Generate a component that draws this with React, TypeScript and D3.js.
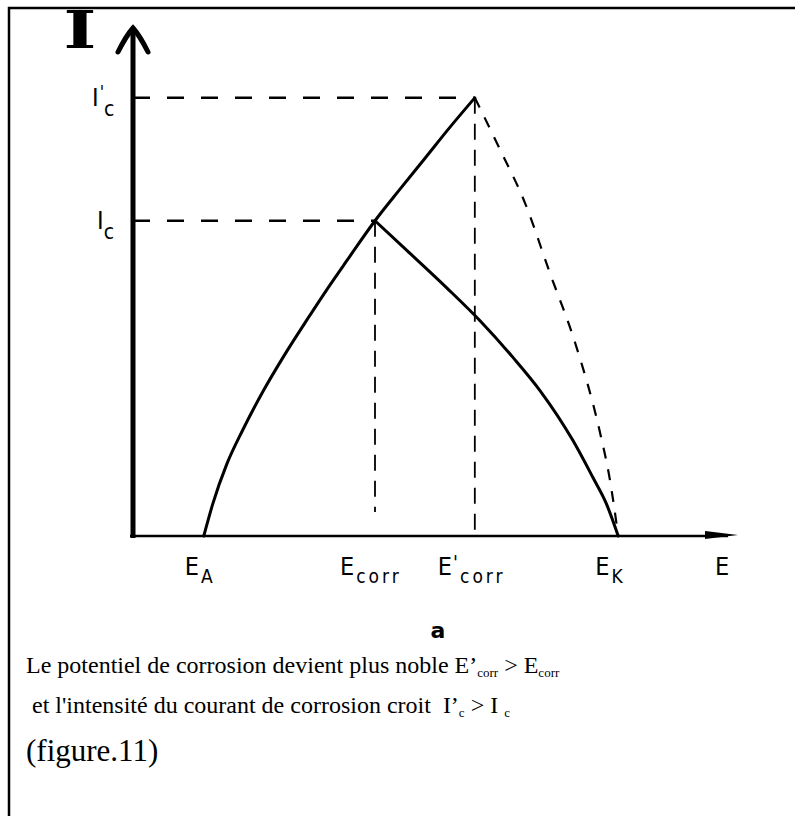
import React from "react";
import * as d3 from "d3";

const W = 795;
const H = 816;

// Potential E and current I in arbitrary units (0–100 along each axis)
const anodicE = [11.7, 13.2, 15.5, 18.2, 21.5, 24.8, 28.8, 32.1, 35.4, 40.0, 44.1, 48.3, 52.4, 56.5];
const anodicI = [0, 6.4, 14.2, 21.1, 28.6, 35.3, 42.8, 48.8, 54.5, 62.3, 68.5, 74.7, 80.8, 86.6];
const cathodicE = [40.0, 45.3, 51.9, 57.4, 62.8, 67.3, 72.7, 76.0, 78.2, 80.2];
const cathodicI = [62.3, 56.4, 49.0, 42.5, 35.3, 28.7, 18.9, 11.6, 6.5, 0];
const shiftedE = [56.5, 60.7, 64.8, 68.9, 73.1, 77.2, 78.8, 80.2];
const shiftedI = [86.6, 76.3, 65.8, 52.0, 38.1, 20.4, 11.3, 0];

// characteristic potentials and currents
const potentialNames = ["A", "corr", "corr'", "K"];
const potentialValues = [11.7, 40.0, 56.5, 80.2];
const currentNames = ["c", "c'"];
const currentValues = [62.3, 86.6];

const captionLines = [
  "Le potentiel de corrosion devient plus noble ",
  " et l'intensité du courant de corrosion croit  ",
  "(figure.11)",
];

const zip = (xs: number[], ys: number[]) => xs.map((v, i) => [v, ys[i]] as [number, number]);

export default function App() {
  const x = d3.scaleLinear().domain([0, 100]).range([133, 738]);
  const y = d3.scaleLinear().domain([0, 100]).range([536, 30]);
  const line = d3
    .line<[number, number]>()
    .x((d) => x(d[0]))
    .y((d) => y(d[1]))
    .curve(d3.curveMonotoneX);

  const [, eCorr, eCorr2] = potentialValues;
  const [iC, iC2] = currentValues;

  const labelFont = "'DejaVu Sans Condensed', 'DejaVu Sans', sans-serif";
  const serif = "'Liberation Serif', 'Times New Roman', serif";

  const eLabel = (val: number, sub: string, prime: boolean, shift: number, key: string) => (
    <text key={key} x={x(val) - 37 + shift} y={575} fontFamily={labelFont} fontSize={25} fill="#000">
      E
      {prime ? (
        <tspan dx={1} dy={-6} fontSize={20}>
          '
        </tspan>
      ) : null}
      <tspan dx={2} dy={prime ? 14 : 8} fontSize={19} letterSpacing={sub.length > 1 ? 3 : 0}>
        {sub}
      </tspan>
    </text>
  );

  const labelShift = [18, 2, 0, 14];

  return (
    <svg width={W} height={H} style={{ position: "absolute", left: 0, top: 0, background: "#fff" }}>
      <rect x={0} y={0} width={W} height={H} fill="#fff" />
      {/* frame */}
      <rect x={9} y={8} width={840} height={860} fill="none" stroke="#000" strokeWidth={2.5} />

      {/* reference lines */}
      <g stroke="#000" fill="none">
        <line x1={x(0)} x2={x(eCorr2)} y1={y(iC2)} y2={y(iC2)} strokeWidth={2.6} strokeDasharray="17 17" />
        <line x1={x(0)} x2={x(eCorr)} y1={y(iC)} y2={y(iC)} strokeWidth={2.6} strokeDasharray="17 17" />
        <line x1={x(eCorr)} x2={x(eCorr)} y1={y(iC)} y2={y(0) - 24} strokeWidth={1.8} strokeDasharray="16 10" />
        <line x1={x(eCorr2)} x2={x(eCorr2)} y1={y(iC2)} y2={y(0)} strokeWidth={1.8} strokeDasharray="16 10" />
      </g>

      {/* polarisation curves */}
      <g fill="none" stroke="#000" strokeLinejoin="round" strokeLinecap="round">
        <path d={line(zip(anodicE, anodicI)) || ""} strokeWidth={3} />
        <path d={line(zip(cathodicE, cathodicI)) || ""} strokeWidth={3} />
        <path
          d={line(zip(shiftedE, shiftedI)) || ""}
          strokeWidth={2.2}
          strokeDasharray="11 11"
          strokeLinecap="butt"
        />
      </g>

      {/* axes */}
      <g stroke="#000" fill="none">
        <line x1={x(0)} x2={x(0)} y1={y(0) + 2} y2={y(100)} strokeWidth={5} />
        <path
          d={`M${x(0) - 15},${y(100) + 22} Q${x(0) - 7},${y(100) + 6} ${x(0)},${y(100) - 2} Q${x(0) + 7},${y(100) + 6} ${x(0) + 15},${y(100) + 22}`}
          strokeWidth={5}
          strokeLinecap="round"
        />
        <line x1={x(0) - 3} x2={x(100) - 10} y1={y(0)} y2={y(0)} strokeWidth={2.5} />
        <path
          d={`M${x(100) - 33},${y(0) - 5} L${x(100)},${y(0) - 1} L${x(100) - 33},${y(0) + 3} Z`}
          fill="#000"
          stroke="none"
        />
      </g>

      {/* axis titles */}
      <text
        x={0}
        y={0}
        transform="translate(80,48) scale(1.35,1)"
        textAnchor="middle"
        fontFamily="'DejaVu Serif', serif"
        fontWeight="bold"
        fontSize={52}
      >
        I
      </text>
      <text x={715} y={575} fontFamily={labelFont} fontSize={25}>
        E
      </text>

      {/* current labels */}
      {currentValues.map((v, i) => (
        <text key={currentNames[i]} x={i === 1 ? 92 : 97} y={y(v) + 8} fontFamily={labelFont} fontSize={25}>
          I
          {i === 1 ? (
            <tspan dx={1} dy={-8} fontSize={18}>
              '
            </tspan>
          ) : null}
          <tspan dx={0} dy={i === 1 ? 18 : 10} fontSize={21}>
            c
          </tspan>
        </text>
      ))}

      {/* potential labels */}
      {potentialValues.map((v, i) => {
        const n = potentialNames[i];
        const prime = n.endsWith("'");
        const sub = prime ? n.slice(0, -1) : n;
        return eLabel(v, sub, prime, labelShift[i], n);
      })}

      <text x={438} y={638} textAnchor="middle" fontFamily="'DejaVu Sans', sans-serif" fontWeight="bold" fontSize={22}>
        a
      </text>

      {/* caption */}
      <g fontFamily={serif} fill="#000" style={{ whiteSpace: "pre" }}>
        <text x={26} y={673} fontSize={24} xmlSpace="preserve">
          {captionLines[0]}E’<tspan dy={4} fontSize={13}>corr</tspan>
          <tspan dy={-4}> &gt; E</tspan>
          <tspan dy={4} fontSize={13}>corr</tspan>
        </text>
        <text x={26} y={713} fontSize={24} xmlSpace="preserve">
          {captionLines[1]}I’<tspan dy={4} fontSize={13}>c</tspan>
          <tspan dy={-4}> &gt; I </tspan>
          <tspan dy={4} fontSize={13}>c</tspan>
        </text>
        <text x={26} y={761} fontSize={31}>
          {captionLines[2]}
        </text>
      </g>
    </svg>
  );
}
